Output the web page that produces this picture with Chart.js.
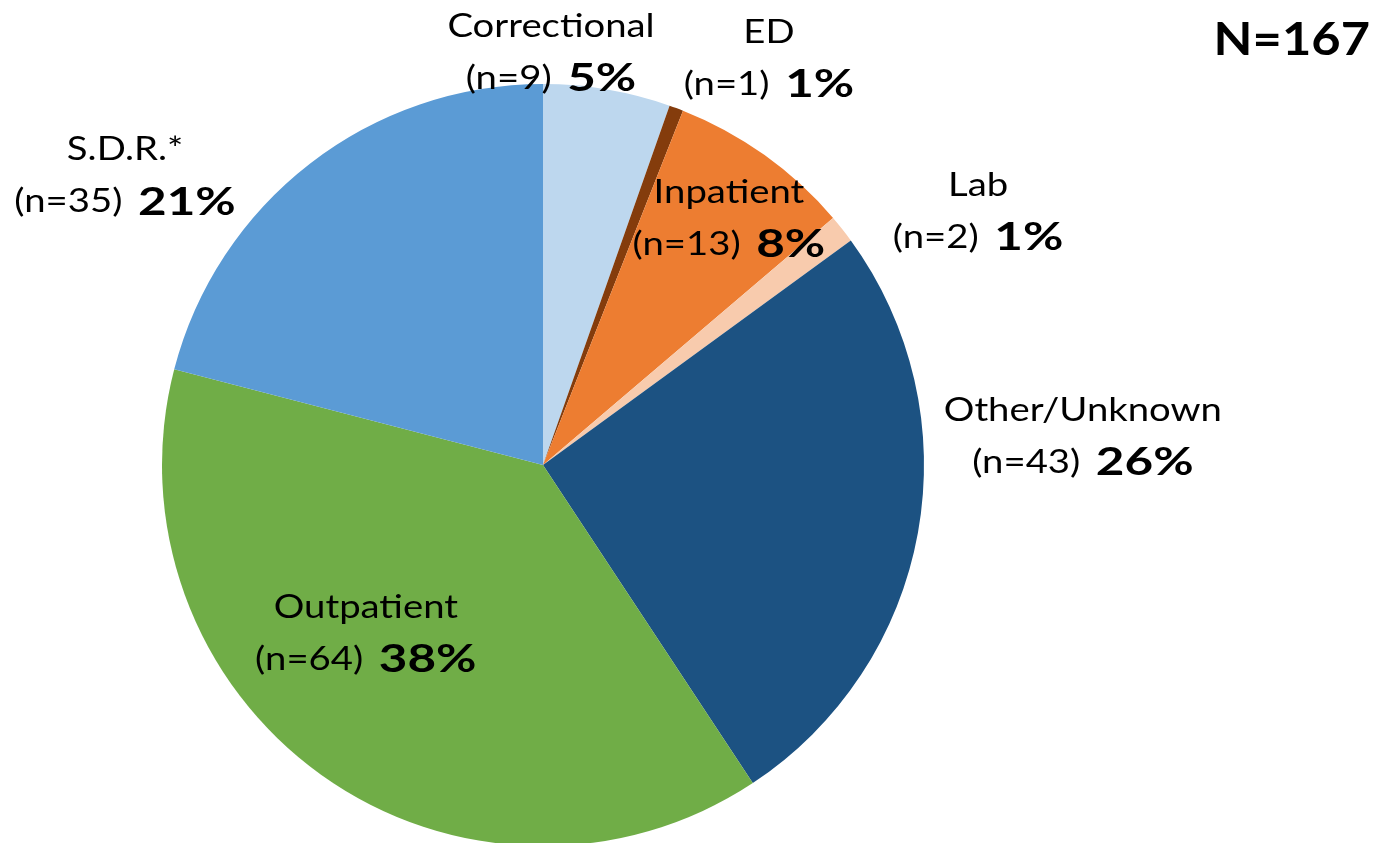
<!DOCTYPE html>
<html>
<head>
<meta charset="utf-8">
<script src="https://cdn.jsdelivr.net/npm/chart.js@4.4.1/dist/chart.umd.min.js"></script>
<style>
  html, body { margin: 0; padding: 0; background: #fff; overflow: hidden; }
  #wrap { position: relative; width: 1380px; height: 850px; }
</style>
</head>
<body>
<div id="wrap"><canvas id="c" width="1380" height="850"></canvas></div>
<script>
const categories = ["Correctional", "ED", "Inpatient", "Lab", "Other/Unknown", "Outpatient", "S.D.R.*"];
const counts = [9, 1, 13, 2, 43, 64, 35];
const percents = [5, 1, 8, 1, 26, 38, 21];
const totalLabel = "N=167";
const colors = ["#BDD7EE", "#843C0C", "#ED7D31", "#F8CBAD", "#1C5282", "#70AD47", "#5B9BD5"];
// label anchors, relative to pie centre in units of radius
const labelPos = [
  [0.021, -1.084], [0.593, -1.068], [0.488, -0.648], [1.142, -0.667],
  [1.417, -0.076], [-0.465, 0.441], [-1.097, -0.759]
];

const FONT = "Lato, 'Noto Sans', sans-serif";
const STRETCH = 1.16;
const BOLD_STRETCH = 1.12;
const GAP = 5;

const labelPlugin = {
  id: 'sliceLabels',
  afterDatasetsDraw(chart) {
    const ctx = chart.ctx;
    const meta = chart.getDatasetMeta(0);
    const arc0 = meta.data[0];
    const cx = arc0.x, cy = arc0.y, r = arc0.outerRadius;
    const NORMAL = "400 33px " + FONT;
    const BOLD = "700 38px " + FONT;
    ctx.fillStyle = '#000';
    ctx.textBaseline = 'middle';
    const lineGap = 52;
    meta.data.forEach((arc, i) => {
      const x = cx + labelPos[i][0] * r;
      const y = cy + labelPos[i][1] * r;
      ctx.save();
      ctx.translate(x, y);
      ctx.scale(STRETCH, 1);
      ctx.font = NORMAL;
      ctx.textAlign = 'center';
      ctx.fillText(categories[i], 0, -lineGap / 2);
      const a = "(n=" + counts[i] + ") ";
      const b = percents[i] + "%";
      const wa = ctx.measureText(a).width + GAP;
      ctx.font = BOLD;
      const wb = ctx.measureText(b).width * BOLD_STRETCH;
      const x0 = -(wa + wb) / 2;
      ctx.textAlign = 'left';
      ctx.font = NORMAL;
      ctx.fillText(a, x0, lineGap / 2);
      ctx.font = BOLD;
      ctx.save();
      ctx.translate(x0 + wa, lineGap / 2 + 1);
      ctx.scale(BOLD_STRETCH, 1);
      ctx.fillText(b, 0, 0);
      ctx.restore();
      ctx.restore();
    });
    ctx.save();
    ctx.translate(1370, 40);
    ctx.scale(1.1, 1);
    ctx.font = "700 46px " + FONT;
    ctx.textAlign = 'right';
    ctx.fillText(totalLabel, 0, 0);
    ctx.restore();
  }
};

new Chart(document.getElementById('c'), {
  type: 'pie',
  data: {
    labels: categories,
    datasets: [{
      data: counts,
      backgroundColor: colors,
      borderWidth: 0,
      hoverOffset: 0
    }]
  },
  options: {
    responsive: false,
    animation: false,
    layout: { padding: { top: 84, bottom: 4, left: 162, right: 456 } },
    plugins: { legend: { display: false }, tooltip: { enabled: false } }
  },
  plugins: [labelPlugin]
});
</script>
</body>
</html>
